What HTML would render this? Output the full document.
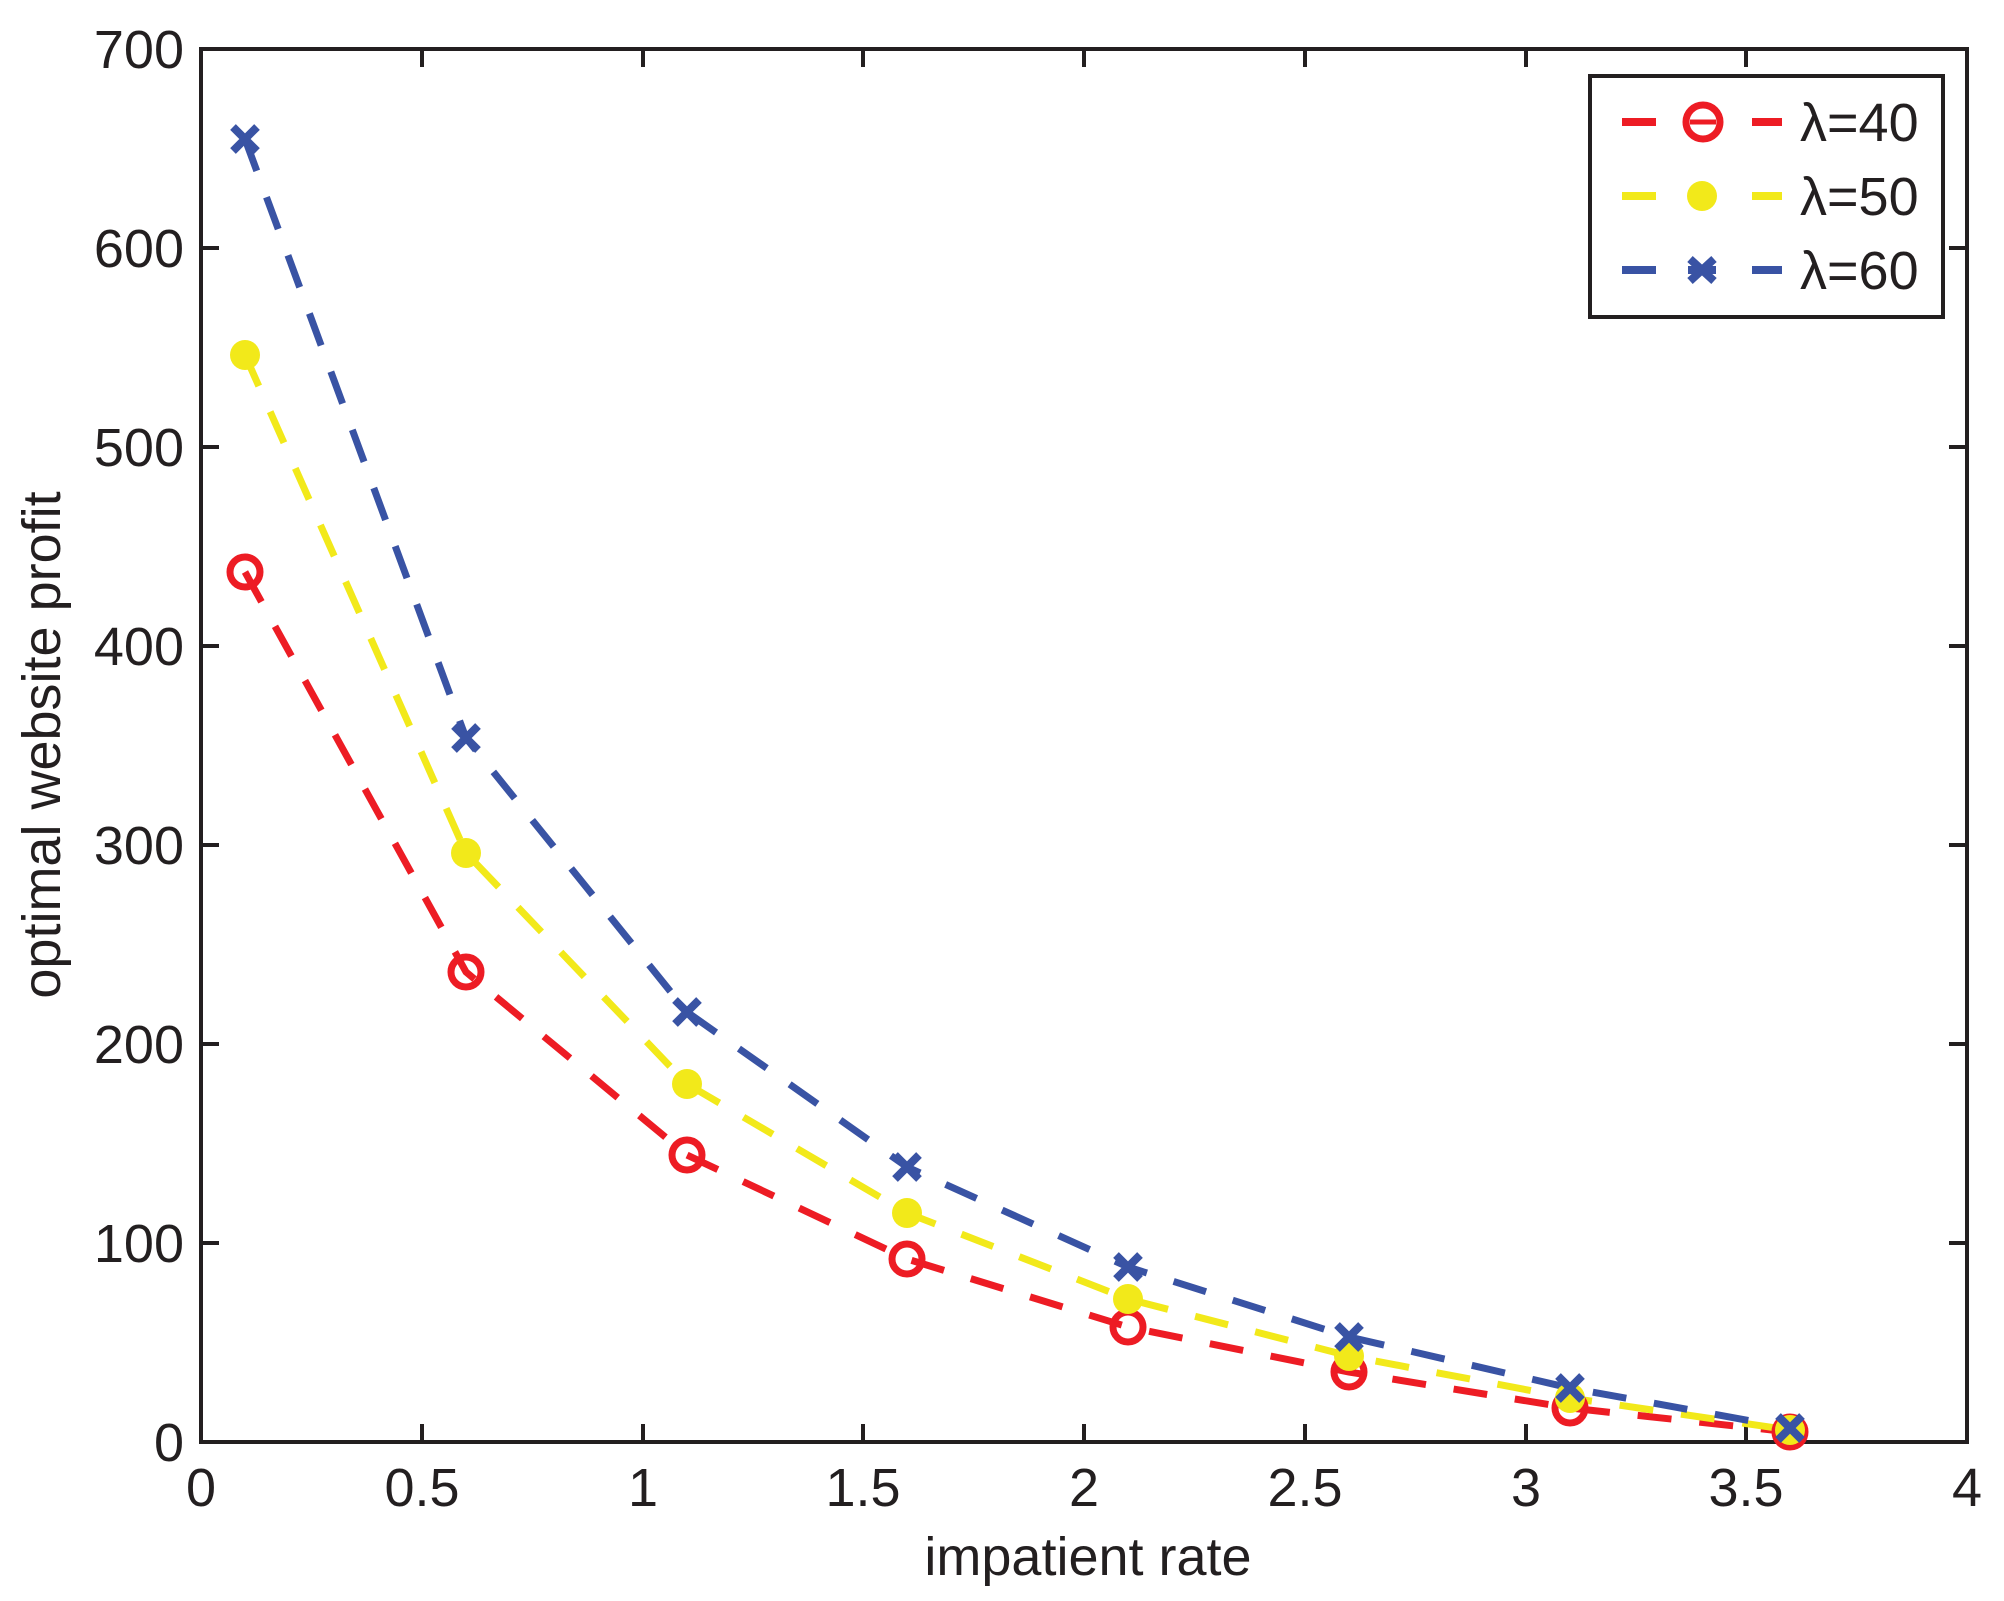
<!DOCTYPE html>
<html><head><meta charset="utf-8"><style>
html,body{margin:0;padding:0;background:#fff;}
svg{display:block;}
text{font-family:"Liberation Sans",Arial,sans-serif;fill:#231f20;}
</style></head><body>
<svg width="2004" height="1601" viewBox="0 0 2004 1601" xmlns="http://www.w3.org/2000/svg">
<rect width="2004" height="1601" fill="#fff"/>
<g stroke="#231f20" stroke-width="4" fill="none">
<rect x="201" y="49" width="1766" height="1393"/>
<path d="M422 1442v-18M643 1442v-18M863 1442v-18M1084 1442v-18M1305 1442v-18M1526 1442v-18M1746 1442v-18
M422 49v18M643 49v18M863 49v18M1084 49v18M1305 49v18M1526 49v18M1746 49v18
M201 1243h18M201 1044h18M201 845h18M201 646h18M201 447h18M201 248h18
M1967 1243h-18M1967 1044h-18M1967 845h-18M1967 646h-18M1967 447h-18M1967 248h-18"/>
</g>
<g font-size="54" text-anchor="end">
<text x="184" y="68">700</text><text x="184" y="267">600</text><text x="184" y="466">500</text>
<text x="184" y="665">400</text><text x="184" y="864">300</text><text x="184" y="1063">200</text>
<text x="184" y="1262">100</text><text x="184" y="1461">0</text>
</g>
<g font-size="54" text-anchor="middle">
<text x="201" y="1506">0</text><text x="422" y="1506">0.5</text><text x="643" y="1506">1</text>
<text x="863" y="1506">1.5</text><text x="1084" y="1506">2</text><text x="1305" y="1506">2.5</text>
<text x="1526" y="1506">3</text><text x="1746" y="1506">3.5</text><text x="1967" y="1506">4</text>
<text x="1088" y="1575">impatient rate</text>
<text transform="translate(60,745) rotate(-90)">optimal website profit</text>
</g>
<g fill="none" stroke-width="7" stroke-dasharray="34,28">
<polyline stroke="#ed1c24" points="245,572 466,972 687,1155 907,1259 1128,1327 1349,1372 1570,1408 1790,1432"/>
<polyline stroke="#f2e91a" points="245,355 466,853 687,1084 907,1213 1128,1299 1349,1356 1570,1398 1790,1430"/>
<polyline stroke="#3953a4" points="245,139 466,738 687,1012 907,1167 1128,1267 1349,1337 1570,1388 1790,1428"/>
</g>
<g fill="none" stroke="#ed1c24" stroke-width="7">
<circle cx="245" cy="572" r="15"/><circle cx="466" cy="972" r="15"/><circle cx="687" cy="1155" r="15"/><circle cx="907" cy="1259" r="15"/><circle cx="1128" cy="1327" r="15"/><circle cx="1349" cy="1372" r="15"/><circle cx="1570" cy="1408" r="15"/><circle cx="1790" cy="1432" r="15"/>
</g>
<g fill="#f2e91a">
<circle cx="245" cy="355" r="15"/><circle cx="466" cy="853" r="15"/><circle cx="687" cy="1084" r="15"/><circle cx="907" cy="1213" r="15"/><circle cx="1128" cy="1299" r="15"/><circle cx="1349" cy="1356" r="15"/><circle cx="1570" cy="1398" r="15"/><circle cx="1790" cy="1430" r="15"/>
</g>
<g stroke="#3953a4" stroke-width="8">
<path d="M233 127l24 24M257 127l-24 24 M454 726l24 24M478 726l-24 24 M675 1000l24 24M699 1000l-24 24 M895 1155l24 24M919 1155l-24 24 M1116 1255l24 24M1140 1255l-24 24 M1337 1325l24 24M1361 1325l-24 24 M1558 1376l24 24M1582 1376l-24 24 M1778 1416l24 24M1802 1416l-24 24"/>
</g>
<rect x="1590" y="76" width="353" height="241" fill="#fff" stroke="#231f20" stroke-width="4"/>
<g stroke-width="8">
<path d="M1622 122h34M1752 122h30" stroke="#ed1c24"/>
<circle cx="1703" cy="122" r="17" fill="none" stroke="#ed1c24" stroke-width="7"/>
<path d="M1690 122h26" stroke="#ed1c24" stroke-width="5"/>
<path d="M1622 196h34M1752 196h30" stroke="#f2e91a"/>
<circle cx="1702" cy="196" r="15" fill="#f2e91a" stroke="none"/>
<path d="M1622 270h34M1752 270h30" stroke="#3953a4"/>
<path d="M1690 259l24 22M1714 259l-24 22M1688 270h28" stroke="#3953a4"/>
</g>
<g font-size="54">
<text x="1800" y="141">λ=40</text><text x="1800" y="215">λ=50</text><text x="1800" y="289">λ=60</text>
</g>
</svg>
</body></html>
